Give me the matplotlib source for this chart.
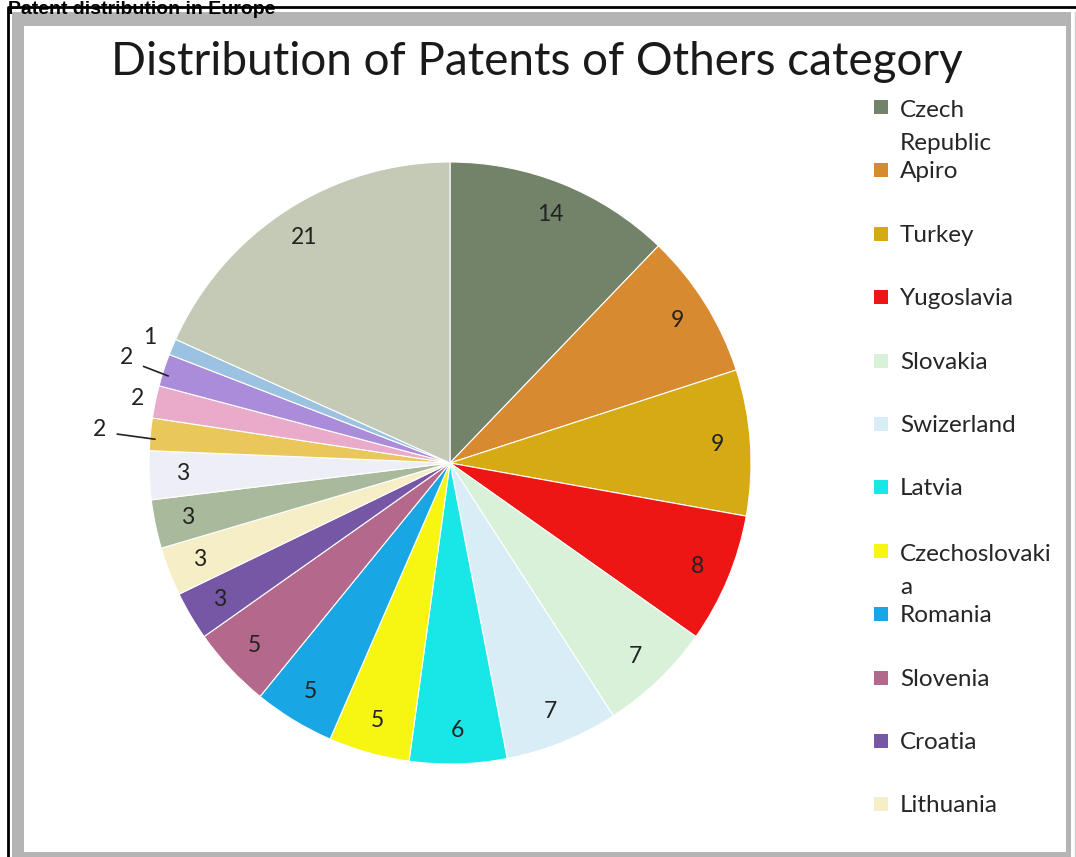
import matplotlib
matplotlib.use('Agg')
import matplotlib.pyplot as plt
from matplotlib.patches import Rectangle
import numpy as np

# ---------------- data ----------------
values = [14, 9, 9, 8, 7, 7, 6, 5, 5, 5, 3, 3, 3, 3, 2, 2, 2, 1, 21]
legend_labels = ['Czech\nRepublic', 'Apiro', 'Turkey', 'Yugoslavia', 'Slovakia',
                 'Swizerland', 'Latvia', 'Czechoslovaki\na', 'Romania', 'Slovenia',
                 'Croatia', 'Lithuania']
colors = ['#73836a', '#d88a30', '#d6aa14', '#ee1515', '#d9f1d9', '#d9edf6',
          '#19e6e6', '#f6f612', '#19a6e4', '#b4698c', '#7557a6', '#f6eec6',
          '#a9b99c', '#eeeef7', '#e9c75a', '#eaaac9', '#ab8cdb', '#9cc2e2',
          '#c5cab6']
title = 'Distribution of Patents of Others category'
caption = 'Patent distribution in Europe'

W, H = 1076, 857
fig = plt.figure(figsize=(W / 100, H / 100), dpi=100)
fig.patch.set_facecolor('white')

def fx(px):
    return px / W

def fy(py):
    return 1 - py / H

# ---------------- frame ----------------
fig.add_artist(Rectangle((fx(12), fy(857)), fx(1071 - 12), (857 - 12) / H,
                         transform=fig.transFigure, facecolor='#b4b4b4',
                         edgecolor='none', zorder=-3))
fig.add_artist(Rectangle((fx(24), fy(852)), fx(1066 - 24), (852 - 26) / H,
                         transform=fig.transFigure, facecolor='white',
                         edgecolor='none', zorder=-2))
fig.add_artist(plt.Line2D([fx(7.5), fx(7.5), fx(1076)], [fy(857), fy(7), fy(7)],
                          transform=fig.transFigure, color='black', lw=2, zorder=-1))
fig.add_artist(plt.Line2D([fx(1074.5), fx(1074.5)], [fy(857), fy(12)],
                          transform=fig.transFigure, color='#d0d0d0', lw=1, zorder=-1))

fig.text(fx(8), fy(14), caption, fontsize=14, fontweight='bold',
         family='Liberation Sans', ha='left', va='baseline', color='black',
         zorder=5)

fig.text(fx(537), fy(62), title, fontsize=33, family='Lato', ha='center',
         va='center', color='#1a1a1a')

# ---------------- pie ----------------
cx, cy, R = 450, 463, 301
ax = fig.add_axes([fx(cx - R), fy(cy + R), 2 * R / W, 2 * R / H])
ax.set_axis_off()
total = sum(values)

wedges, texts, autotexts = ax.pie(
    values, colors=colors, startangle=90, counterclock=False, radius=1,
    autopct=lambda p: f'{int(round(p * total / 100))}', pctdistance=0.89,
    wedgeprops=dict(edgecolor='#ffffff', linewidth=0.8),
    textprops=dict(fontsize=16.5, family='Lato', color='#222222'))
ax.set_xlim(-1, 1)
ax.set_ylim(-1, 1)
ax.set_aspect('auto')

# outside labels for the smallest slices (leader lines on alternate ones)
small_idx = [i for i, v in enumerate(values) if v <= 2]
small_idx_sorted = sorted(small_idx, key=lambda i: -i)  # from top going down
for k, i in enumerate(small_idx_sorted):
    w = wedges[i]
    ang = np.deg2rad((w.theta1 + w.theta2) / 2)
    d = [1.08, 1.13, 1.06, 1.17][k % 4]
    autotexts[i].set_position((d * np.cos(ang), d * np.sin(ang)))
    if k % 2 == 1:
        x0, y0 = (d - 0.06) * np.cos(ang), (d - 0.06) * np.sin(ang) - 0.01
        ax.plot([x0, 0.985 * np.cos(ang)], [y0, 0.985 * np.sin(ang) - 0.015],
                color='#222222', lw=1.2, clip_on=False)

# ---------------- legend ----------------
line_gap = 35
for i, lab in enumerate(legend_labels):
    base = 115 + i * 63.4
    extra = lab.count('\n')
    fig.add_artist(Rectangle((fx(874), fy(base - 1)), 14 / W, 14 / H,
                             transform=fig.transFigure, facecolor=colors[i],
                             edgecolor='none', zorder=3))
    fig.text(fx(900), fy(base + extra * line_gap), lab, fontsize=17.5,
             family='Lato', ha='left', va='baseline', color='#262626',
             linespacing=1.7)

fig.savefig('out.png', dpi=100)
